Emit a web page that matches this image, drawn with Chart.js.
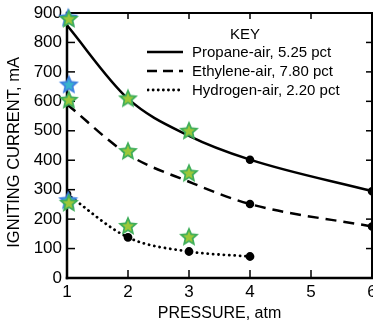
<!DOCTYPE html>
<html>
<head>
<meta charset="utf-8">
<script src="https://cdn.jsdelivr.net/npm/chart.js@4.4.1/dist/chart.umd.min.js"></script>
<style>
  html, body { margin: 0; padding: 0; background: #fff; }
  #wrap { position: relative; width: 373px; height: 322px; overflow: hidden; }
  #key { position: absolute; left: 0; top: 0; font: 15px "Liberation Sans", Arial, sans-serif; color: #000; }
  #key .title { position: absolute; left: 215px; top: 24px; width: 60px; line-height: 19px; text-align: center; }
  #key .row { position: absolute; left: 147px; height: 19px; display: flex; align-items: center; white-space: nowrap; }
  #key svg { width: 36px; height: 6px; margin-right: 9px; }
</style>
</head>
<body>
<div id="wrap">
  <canvas id="chart" width="373" height="322"></canvas>
  <div id="key">
    <div class="title">KEY</div>
    <div class="row" style="top:42px"><svg viewBox="0 0 36 6"><line x1="0" y1="3" x2="36" y2="3" stroke="#000" stroke-width="2.5"/></svg>Propane-air, 5.25 pct</div>
    <div class="row" style="top:61px"><svg viewBox="0 0 36 6"><line x1="0" y1="3" x2="36" y2="3" stroke="#000" stroke-width="2.5" stroke-dasharray="10 6"/></svg>Ethylene-air, 7.80 pct</div>
    <div class="row" style="top:80px"><svg viewBox="0 0 36 6"><line x1="1" y1="3" x2="36" y2="3" stroke="#000" stroke-width="2.8" stroke-linecap="round" stroke-dasharray="0.1 5"/></svg>Hydrogen-air, 2.20 pct</div>
  </div>
</div>
<script>
// ── Data ───────────────────────────────────────────────────────────────────

const xTicks       = [1, 2, 3, 4, 5, 6];
const yTicks       = [0, 100, 200, 300, 400, 500, 600, 700, 800, 900];

const propaneX     = [1, 2, 3, 4, 6];
const propaneY     = [858, 609, 483, 402, 295];
const propaneDots  = [4, 6];

const ethyleneX    = [1, 2, 3, 4, 6];
const ethyleneY    = [590, 420, 327, 251, 175];
const ethyleneDots = [4, 6];

const hydrogenX    = [1, 2, 3, 4];
const hydrogenY    = [285, 138, 90, 73];
const hydrogenDots = [1, 2, 3, 4];

const greenStarX   = [1.03, 1.03, 1.03, 2, 2, 2, 3, 3, 3];
const greenStarY   = [880, 605, 255, 610, 431, 177, 500, 356, 140];
const blueStarX    = [1.02, 1.03, 1.02];
const blueStarY    = [884, 657, 264];

// ── Helpers ────────────────────────────────────────────────────────────────

const FONT = '"Liberation Sans", Arial, sans-serif';
const pts  = (xs, ys) => xs.map((x, i) => ({ x, y: ys[i] }));

function starImage(outer, inner) {
  const c = document.createElement('canvas');
  c.width = 24; c.height = 24;
  const g = c.getContext('2d');
  const path = (R, r) => {
    g.beginPath();
    for (let i = 0; i < 10; i++) {
      const rad = i % 2 ? r : R;
      const a = -Math.PI / 2 + i * Math.PI / 5;
      g.lineTo(12 + rad * Math.cos(a), 12.5 + rad * Math.sin(a));
    }
    g.closePath();
  };
  path(10.5, 4.8); g.fillStyle = outer; g.fill();
  path(6.2, 2.8);  g.fillStyle = inner; g.fill();
  return c;
}

const greenStar = starImage('#3fae5a', '#9cc83a');
const blueStar  = starImage('#3c7fe0', '#38b4cc');

const lineSet = (xs, ys, dots, extra) => Object.assign({
  type: 'line',
  data: pts(xs, ys),
  borderColor: '#000',
  backgroundColor: '#000',
  borderWidth: 2.5,
  cubicInterpolationMode: 'monotone',
  pointRadius: c => dots.includes(c.raw?.x) ? 3 : 0,
  pointHoverRadius: 0,
  fill: false,
}, extra);

// ── Frame: box border with inward ticks on all four sides ─────────────────

const framePlugin = {
  id: 'frame',
  beforeDatasetsDraw(chart) {
    const { ctx, chartArea: { left, right, top, bottom }, scales: { x, y } } = chart;
    const seg = (x1, y1, x2, y2) => { ctx.beginPath(); ctx.moveTo(x1, y1); ctx.lineTo(x2, y2); ctx.stroke(); };
    ctx.save();
    ctx.strokeStyle = '#000';
    ctx.lineCap = 'square';
    ctx.lineWidth = 2.5;
    seg(left, top, left, bottom);
    seg(left, bottom, right, bottom);
    ctx.lineWidth = 2;
    seg(left, top, right, top);
    seg(right, top, right, bottom);
    ctx.lineWidth = 1.5;
    ctx.lineCap = 'butt';
    x.ticks.forEach(t => {
      if (t.value <= x.min || t.value >= x.max) return;
      const px = x.getPixelForValue(t.value);
      seg(px, bottom, px, bottom - 8);
      seg(px, top, px, top + 6);
    });
    y.ticks.forEach(t => {
      if (t.value <= y.min || t.value >= y.max) return;
      const py = y.getPixelForValue(t.value);
      seg(left, py, left + 8, py);
      seg(right, py, right - 6, py);
    });
    ctx.restore();
  }
};

// ── Chart ──────────────────────────────────────────────────────────────────

new Chart(document.getElementById('chart'), {
  type: 'scatter',
  data: {
    datasets: [
      { data: pts(greenStarX, greenStarY), pointStyle: greenStar, pointRadius: 10, clip: false },
      { data: pts(blueStarX, blueStarY),   pointStyle: blueStar,  pointRadius: 10, clip: false },
      lineSet(propaneX, propaneY, propaneDots),
      lineSet(ethyleneX, ethyleneY, ethyleneDots, { borderDash: [11, 7] }),
      lineSet(hydrogenX, hydrogenY, hydrogenDots, { borderDash: [0.1, 5.3], borderCapStyle: 'round', borderWidth: 2.8 }),
    ]
  },
  options: {
    responsive: false,
    devicePixelRatio: 1,
    animation: false,
    events: [],
    layout: { autoPadding: false, padding: { top: 13, right: 1, left: 0, bottom: 0 } },
    plugins: { legend: { display: false }, tooltip: { enabled: false } },
    scales: {
      x: {
        type: 'linear', min: xTicks[0], max: xTicks[xTicks.length - 1],
        afterBuildTicks: s => { s.ticks = xTicks.map(v => ({ value: v })); },
        afterFit: s => { s.height = 44; s.paddingLeft = 0; s.paddingRight = 0; },
        grid: { display: false, drawTicks: false },
        border: { display: false },
        ticks: { padding: 4, color: '#000', maxRotation: 0, autoSkip: false, font: { family: FONT, size: 17 } },
        title: { display: true, text: 'PRESSURE, atm', color: '#000', padding: 0, font: { family: FONT, size: 16, lineHeight: 1.1 } }
      },
      y: {
        type: 'linear', min: yTicks[0], max: yTicks[yTicks.length - 1],
        afterBuildTicks: s => { s.ticks = yTicks.map(v => ({ value: v })); },
        afterFit: s => { s.width = 67; s.paddingTop = 0; s.paddingBottom = 0; },
        grid: { display: false, drawTicks: false },
        border: { display: false },
        ticks: { padding: 5, color: '#000', autoSkip: false, font: { family: FONT, size: 17 } },
        // trailing spaces nudge the rotated title down a little, as in the original
        title: { display: true, text: 'IGNITING CURRENT, mA   ', color: '#000', padding: { top: 5, bottom: 0 }, font: { family: FONT, size: 16.5 } }
      }
    }
  },
  plugins: [framePlugin]
});
</script>
</body>
</html>
